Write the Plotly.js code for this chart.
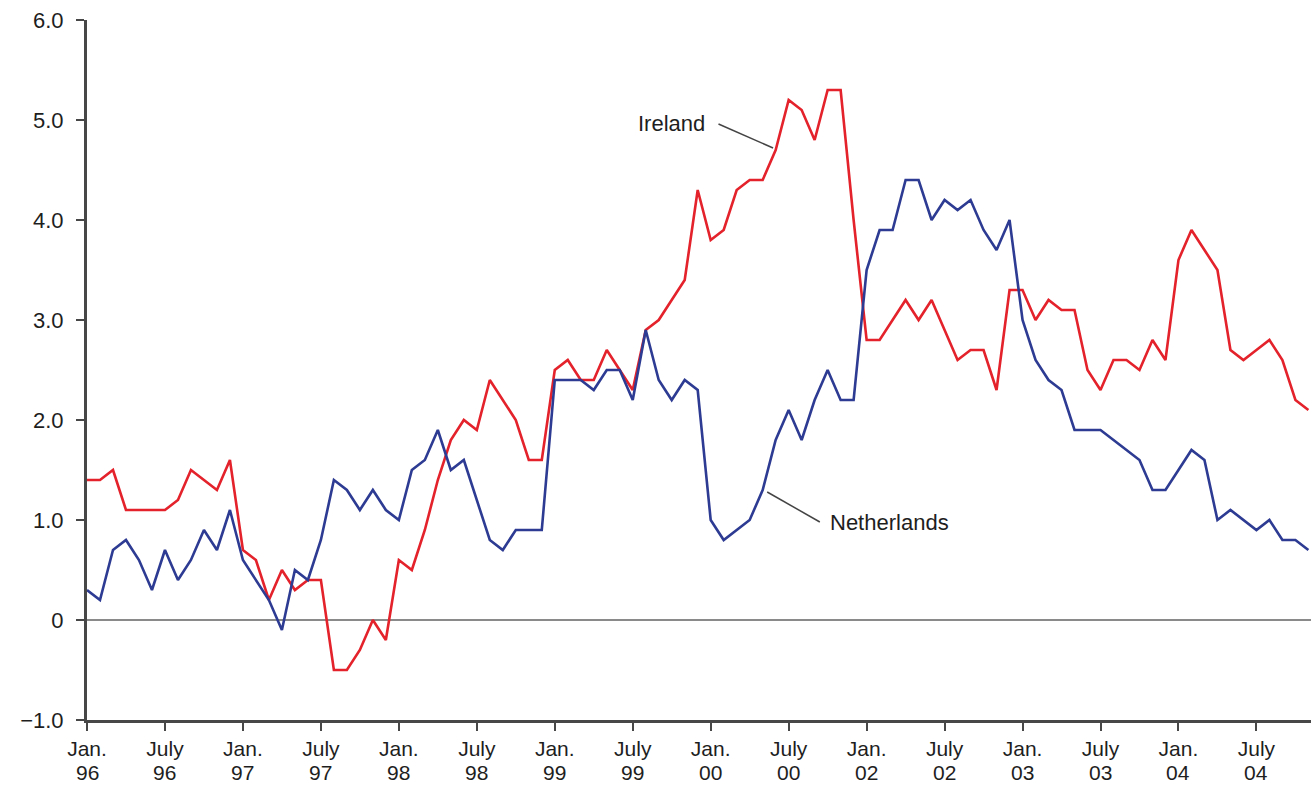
<!DOCTYPE html>
<html>
<head>
<meta charset="utf-8">
<script src="https://cdn.plot.ly/plotly-3.0.1.min.js"></script>
<style>
  html, body { margin: 0; padding: 0; background: #ffffff; }
  #chart { width: 1311px; height: 791px; }
</style>
</head>
<body>
<div id="chart"></div>
<script>
// Monthly values, Jan. 96 onwards (percent)
const ireland = [
  1.4, 1.4, 1.5, 1.1, 1.1, 1.1, 1.1, 1.2, 1.5, 1.4, 1.3, 1.6,
  0.7, 0.6, 0.2, 0.5, 0.3, 0.4, 0.4, -0.5, -0.5, -0.3, 0.0, -0.2,
  0.6, 0.5, 0.9, 1.4, 1.8, 2.0, 1.9, 2.4, 2.2, 2.0, 1.6, 1.6,
  2.5, 2.6, 2.4, 2.4, 2.7, 2.5, 2.3, 2.9, 3.0, 3.2, 3.4, 4.3,
  3.8, 3.9, 4.3, 4.4, 4.4, 4.7, 5.2, 5.1, 4.8, 5.3, 5.3, 4.0,
  2.8, 2.8, 3.0, 3.2, 3.0, 3.2, 2.9, 2.6, 2.7, 2.7, 2.3, 3.3,
  3.3, 3.0, 3.2, 3.1, 3.1, 2.5, 2.3, 2.6, 2.6, 2.5, 2.8, 2.6,
  3.6, 3.9, 3.7, 3.5, 2.7, 2.6, 2.7, 2.8, 2.6, 2.2, 2.1
];
const netherlands = [
  0.3, 0.2, 0.7, 0.8, 0.6, 0.3, 0.7, 0.4, 0.6, 0.9, 0.7, 1.1,
  0.6, 0.4, 0.2, -0.1, 0.5, 0.4, 0.8, 1.4, 1.3, 1.1, 1.3, 1.1,
  1.0, 1.5, 1.6, 1.9, 1.5, 1.6, 1.2, 0.8, 0.7, 0.9, 0.9, 0.9,
  2.4, 2.4, 2.4, 2.3, 2.5, 2.5, 2.2, 2.9, 2.4, 2.2, 2.4, 2.3,
  1.0, 0.8, 0.9, 1.0, 1.3, 1.8, 2.1, 1.8, 2.2, 2.5, 2.2, 2.2,
  3.5, 3.9, 3.9, 4.4, 4.4, 4.0, 4.2, 4.1, 4.2, 3.9, 3.7, 4.0,
  3.0, 2.6, 2.4, 2.3, 1.9, 1.9, 1.9, 1.8, 1.7, 1.6, 1.3, 1.3,
  1.5, 1.7, 1.6, 1.0, 1.1, 1.0, 0.9, 1.0, 0.8, 0.8, 0.7
];
const xTickMonths = [
  "Jan.", "July", "Jan.", "July", "Jan.", "July", "Jan.", "July",
  "Jan.", "July", "Jan.", "July", "Jan.", "July", "Jan.", "July"
];
const xTickYears = [
  "96", "96", "97", "97", "98", "98", "99", "99",
  "00", "00", "02", "02", "03", "03", "04", "04"
];
const yTickValues = [-1, 0, 1, 2, 3, 4, 5, 6];
const yTickLabels = ["\u22121.0", "0", "1.0", "2.0", "3.0", "4.0", "5.0", "6.0"];
const seriesNames = ["Ireland", "Netherlands"];

const monthIndex = ireland.map((_, i) => i);
const xTickValues = xTickMonths.map((_, k) => k * 6);

const FONT = "Liberation Sans, Arial, Helvetica, sans-serif";
const FS = 22;
const AX_FS = 21;
const TXT = "#1e1e1e";
const RED = "#e3222b";
const BLUE = "#2d3b92";

const traces = [
  { x: monthIndex, y: ireland, name: seriesNames[0], type: "scatter", mode: "lines",
    line: { color: RED, width: 2.6 } },
  { x: monthIndex, y: netherlands, name: seriesNames[1], type: "scatter", mode: "lines",
    line: { color: BLUE, width: 2.6 } }
];

const yearAnnotations = xTickYears.map((t, k) => ({
  x: xTickValues[k], y: 0, xref: "x", yref: "paper", text: t, showarrow: false,
  xanchor: "center", yanchor: "top", yshift: -40, borderpad: 0,
  font: { family: FONT, size: AX_FS, color: TXT }
}));

const layout = {
  width: 1311, height: 791,
  margin: { l: 87, r: 0, t: 20, b: 71 },
  paper_bgcolor: "#ffffff", plot_bgcolor: "#ffffff",
  showlegend: false,
  font: { family: FONT, size: AX_FS, color: TXT },
  xaxis: {
    range: [0, 94.2], showgrid: false, zeroline: false,
    showline: true, linecolor: "#474747", linewidth: 3,
    ticks: "outside", ticklen: 8, tickwidth: 2, tickcolor: "#474747",
    tickmode: "array", tickvals: xTickValues, ticktext: xTickMonths,
    tickfont: { family: FONT, size: AX_FS, color: TXT },
    ticklabelstandoff: 0, fixedrange: true
  },
  yaxis: {
    range: [-1, 6], showgrid: false,
    zeroline: true, zerolinecolor: "#8a8a8a", zerolinewidth: 2,
    showline: true, linecolor: "#474747", linewidth: 3,
    ticks: "outside", ticklen: 8, tickwidth: 2, tickcolor: "#474747",
    tickmode: "array", tickvals: yTickValues, ticktext: yTickLabels,
    tickfont: { family: FONT, size: FS, color: TXT },
    ticklabelstandoff: 8, fixedrange: true
  },
  shapes: [
    { type: "line", xref: "x", yref: "y", x0: 48.6, y0: 4.96, x1: 52.8, y1: 4.72,
      line: { color: "#444444", width: 1.5 } },
    { type: "line", xref: "x", yref: "y", x0: 52.35, y0: 1.28, x1: 56.4, y1: 0.98,
      line: { color: "#444444", width: 1.5 } }
  ],
  annotations: [
    { x: 47.7, y: 4.97, xref: "x", yref: "y", text: seriesNames[0], showarrow: false,
      xanchor: "right", yanchor: "middle", font: { family: FONT, size: FS, color: TXT } },
    { x: 57.0, y: 0.98, xref: "x", yref: "y", text: seriesNames[1], showarrow: false,
      xanchor: "left", yanchor: "middle", font: { family: FONT, size: FS, color: TXT } }
  ].concat(yearAnnotations)
};

Plotly.newPlot("chart", traces, layout, { displayModeBar: false, staticPlot: true });
</script>
</body>
</html>
